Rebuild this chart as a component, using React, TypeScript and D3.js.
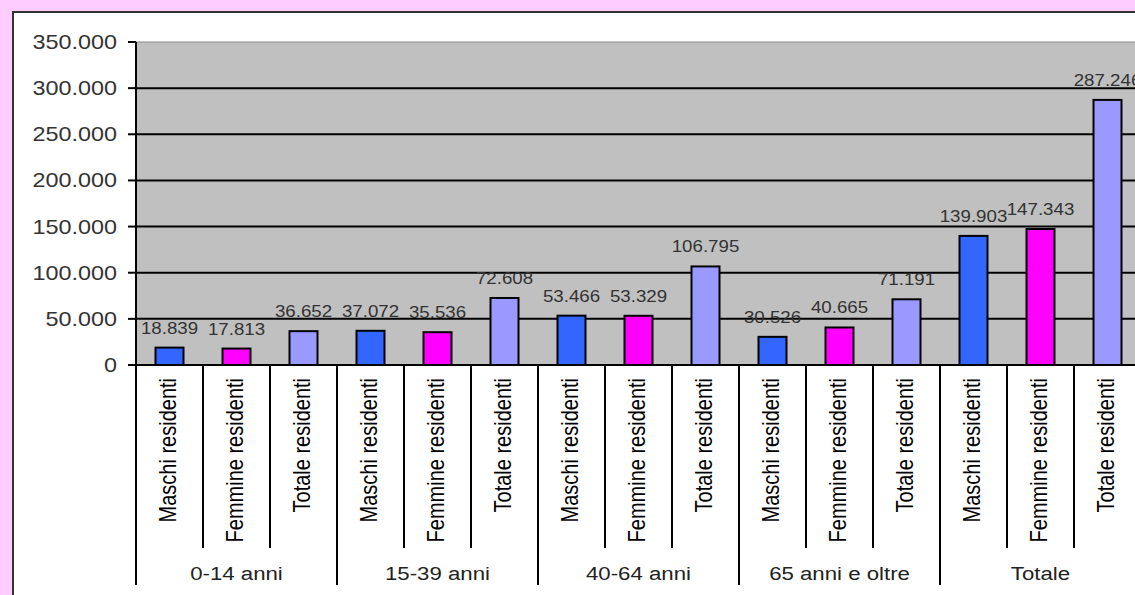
import React from "react";
import * as d3 from "d3";

const groups = ["0-14 anni", "15-39 anni", "40-64 anni", "65 anni e oltre", "Totale"];
const seriesNames = ["Maschi residenti", "Femmine residenti", "Totale residenti"];
const maschi = [18839, 37072, 53466, 30526, 139903];
const femmine = [17813, 35536, 53329, 40665, 147343];
const totale = [36652, 72608, 106795, 71191, 287246];
const yTicks = [0, 50000, 100000, 150000, 200000, 250000, 300000, 350000];
const colors = ["#3366FF", "#FF00FF", "#9999FF"];

const W = 1135;
const H = 595;
const SX = 1.17; // horizontal stretch of the original picture

export default function App() {
  const left = 136;
  const catW = 67;
  const nCat = groups.length * 3;
  const right = left + catW * nCat;
  const top = 42;
  const bottom = 365;

  const cats = groups.flatMap((g, gi) =>
    seriesNames.map((s, si) => ({
      key: `${gi}-${si}`,
      group: g,
      gi,
      si,
      name: s,
      value: [maschi, femmine, totale][si][gi],
    }))
  );

  const x = d3
    .scaleBand<string>()
    .domain(cats.map((c) => c.key))
    .range([left, right])
    .paddingInner(0)
    .paddingOuter(0);
  const y = d3.scaleLinear().domain([0, 350000]).range([bottom, top]);
  const fmt = (v: number) => d3.format(",")(v).replace(/,/g, ".");
  const barW = 28;

  const font = "'Liberation Sans', Arial, sans-serif";

  return (
    <div style={{ position: "fixed", left: 0, top: 0, width: W, height: H }}>
      <svg width={W} height={H} style={{ display: "block" }}>
        <rect x={0} y={0} width={W} height={H} fill="#FFCCFF" />
        <rect x={13} y={12} width={W + 50} height={H + 50} fill="#FFFFFF" stroke="#333333" strokeWidth={2} />
        {/* plot area */}
        <rect x={left} y={top} width={right - left} height={bottom - top} fill="#C0C0C0" stroke="#8a8a8a" strokeWidth={1} />
        {yTicks.slice(0, -1).map((t) => (
          <line key={t} x1={left} x2={right} y1={y(t)} y2={y(t)} stroke="#000" strokeWidth={2} />
        ))}
        {/* y axis */}
        <line x1={left} x2={left} y1={top} y2={bottom} stroke="#000" strokeWidth={2} />
        {yTicks.map((t) => (
          <g key={"t" + t}>
            <line x1={left - 8} x2={left} y1={y(t)} y2={y(t)} stroke="#000" strokeWidth={2} />
            <text
              transform={`translate(117,${y(t) + 7}) scale(${SX},1)`}
              textAnchor="end"
              fontFamily={font}
              fontSize={20}
              fill="#333"
            >
              {fmt(t)}
            </text>
          </g>
        ))}
        {/* bars */}
        {cats.map((c) => {
          const cx = (x(c.key) as number) + x.bandwidth() / 2;
          return (
            <g key={"b" + c.key}>
              <rect
                x={cx - barW / 2}
                y={y(c.value)}
                width={barW}
                height={bottom - y(c.value)}
                fill={colors[c.si]}
                stroke="#000"
                strokeWidth={2}
              />
              <text
                transform={`translate(${cx},${y(c.value) - 14}) scale(${SX},1)`}
                textAnchor="middle"
                fontFamily={font}
                fontSize={16}
                fill="#333"
              >
                {fmt(c.value)}
              </text>
            </g>
          );
        })}
        {/* category axis */}
        {d3.range(nCat + 1).map((i) => {
          const xx = left + i * catW;
          const isGroup = i % 3 === 0;
          return (
            <line key={"d" + i} x1={xx} x2={xx} y1={bottom} y2={isGroup ? 585 : 548} stroke="#000" strokeWidth={2} />
          );
        })}
        {cats.map((c) => {
          const cx = (x(c.key) as number) + x.bandwidth() / 2;
          return (
            <text
              key={"l" + c.key}
              transform={`translate(${cx + 6},378) scale(${SX},1) rotate(-90)`}
              textAnchor="end"
              fontFamily={font}
              fontSize={20}
              fill="#000"
            >
              {c.name}
            </text>
          );
        })}
        {groups.map((g, gi) => (
          <text
            key={"g" + g}
            transform={`translate(${left + (gi * 3 + 1.5) * catW},580) scale(${SX},1)`}
            textAnchor="middle"
            fontFamily={font}
            fontSize={19}
            fill="#222"
          >
            {g}
          </text>
        ))}
      </svg>
    </div>
  );
}
